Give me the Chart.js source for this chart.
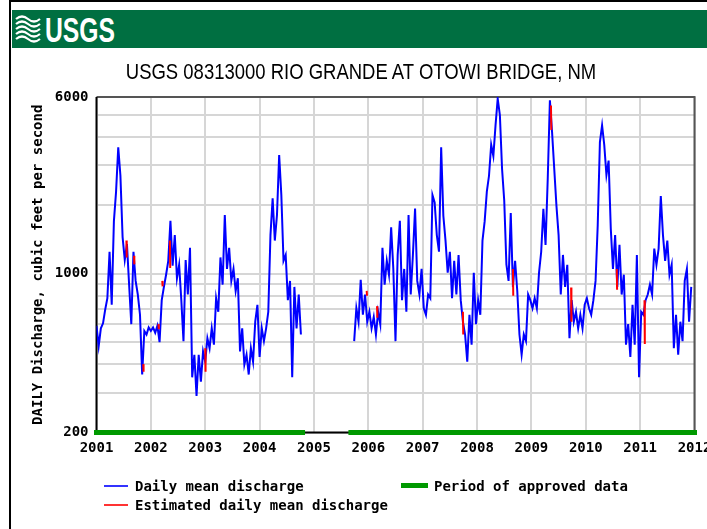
<!DOCTYPE html>
<html>
<head>
<meta charset="utf-8">
<script src="https://cdn.jsdelivr.net/npm/chart.js@4.4.1/dist/chart.umd.min.js"></script>
<style>
html,body{margin:0;padding:0;background:#fff;width:707px;height:529px;overflow:hidden;}
#frame{position:absolute;left:9px;top:0;width:698px;height:529px;border-left:2px solid #000;border-top:2px solid #000;box-sizing:border-box;}
#header{position:absolute;left:12px;top:10px;width:695px;height:38px;background:#006f41;}
#title{position:absolute;left:1px;top:59px;width:720px;text-align:center;font:22px 'Liberation Sans Narrow','Arial Narrow','Liberation Sans',sans-serif;color:#000;white-space:nowrap;transform:scaleX(0.84);transform-origin:360px 0;}
#c{position:absolute;left:0;top:0;}
.lg{position:absolute;font:bold 14px 'DejaVu Sans Mono',monospace;color:#000;white-space:nowrap;line-height:16px;}
.ln{position:absolute;}
</style>
</head>
<body>
<canvas id="c" width="707" height="529"></canvas>
<div id="frame"></div>
<div id="header">
<svg width="120" height="38" viewBox="0 0 120 38" style="position:absolute;left:0;top:0">
  <g fill="none" stroke="#fff" stroke-width="2.2">
    <path d="M4 9 q6 -5 12 0 t12 0"/>
    <path d="M4 14 q6 -5 12 0 t12 0"/>
    <path d="M4 19 q6 -5 12 0 t12 0"/>
    <path d="M4 24 q6 -5 12 0 t12 0"/>
    <path d="M4 29 q6 -5 12 0 t12 0"/>
  </g>
  <text x="33" y="32" fill="#fff" font-family="Liberation Sans Narrow, Arial Narrow, sans-serif" font-weight="bold" font-size="35" textLength="70" lengthAdjust="spacingAndGlyphs">USGS</text>
</svg>
</div>
<div id="title">USGS 08313000 RIO GRANDE AT OTOWI BRIDGE, NM</div>

<div class="ln" style="left:104px;top:485px;width:24px;height:2px;background:#3333ff"></div>
<div class="lg" style="left:135px;top:478px">Daily mean discharge</div>
<div class="ln" style="left:104px;top:504px;width:24px;height:2px;background:#ff3333"></div>
<div class="lg" style="left:135px;top:497px">Estimated daily mean discharge</div>
<div class="ln" style="left:401px;top:483px;width:27px;height:5px;background:#009900"></div>
<div class="lg" style="left:434px;top:478px">Period of approved data</div>

<script>
// ---- data (cubic feet per second), sampled every STEP years ----
const STEP = 0.04;
const period1Start = 2001.0;
const period1Flow = [
 590,480,575,605,695,780,1250,730,1700,2300,
 3600,2700,1450,1150,1350,895,600,1250,930,810,
 660,360,560,540,580,560,580,550,590,500,
 765,875,990,1140,1710,1085,1480,955,1095,765,
 505,1150,810,1300,350,440,290,440,335,455,
 410,520,470,575,487,780,680,1180,895,1815,
 1050,1300,930,1050,840,955,455,575,398,440,
 360,470,410,615,730,430,575,505,575,680,
 1480,2150,1400,1815,3330,2220,1140,1210,765,930,
 350,875,575,810,540
];
const period2Start = 2005.74;
const period2Flow = [
 505,705,615,940,660,810,615,680,575,645,
 540,680,600,1300,895,1140,990,1600,1050,505,
 1210,1710,765,1050,680,1815,810,1210,1935,930,
 810,1050,705,660,810,780,2220,2060,1480,1250,
 3600,1800,1400,1010,1250,780,1140,810,1210,765,
 615,540,410,660,487,1010,600,765,660,1400,
 1700,2300,2700,3700,3300,4500,5900,5000,2900,2100,
 1100,930,1850,875,1140,840,540,440,540,505,
 810,765,705,780,705,1010,1250,1930,1340,2600,
 5800,4200,2900,2000,1480,810,1210,875,1095,520,
 765,615,680,575,660,575,730,780,705,660,
 765,930,1640,3800,4500,3690,2720,3150,1580,1050,
 1480,875,1340,810,990,487,600,430,730,487,
 1210,350,680,660,765,810,895,810,1290,1095,
 1290,2200,1480,1140,1400,990,1095,470,660,440,
 615,505,930,1050,615,875
];
// estimated (red) segments
const estDate = [2001.55,2001.69,2001.86,2002.14,2002.21,2002.35,2003.00,2005.97,2006.16,2007.74,2008.66,2009.36,2009.73,2010.57,2011.08];
const estHigh = [1400,1200,400,600,930,1400,470,840,720,680,1050,5500,870,1050,765];
const estLow  = [1180,1100,370,570,880,1060,370,800,640,540,800,4300,615,850,490];
// approved-data periods
const approvedStart = [2001.0, 2005.68];
const approvedEnd   = [2004.79, 2012.0];
// axis
const yGridValues = [200,300,400,500,600,700,800,900,1000,2000,3000,4000,5000,6000];
const yLabelValues = [200,1000,6000];

// ---- build datasets ----
const blueData = [];
period1Flow.forEach((v,i)=>blueData.push({x: period1Start + i*STEP, y: v}));
blueData.push({x: 2005.2, y: null});
period2Flow.forEach((v,i)=>blueData.push({x: period2Start + i*STEP, y: v}));

const redData = [];
estDate.forEach((d,k)=>{
  redData.push({x:d, y:estHigh[k]});
  redData.push({x:d+0.006, y:estLow[k]});
  redData.push({x:d+0.01, y:null});
});

const greenData = [];
approvedStart.forEach((s,k)=>{
  greenData.push({x:s, y:200});
  greenData.push({x:approvedEnd[k], y:200});
  greenData.push({x:approvedEnd[k]+0.01, y:null});
});

const framePlugin = {
  id:'frame',
  beforeDatasetsDraw(chart){
    const {ctx, chartArea:a} = chart;
    ctx.save();
    ctx.lineWidth = 2;
    ctx.strokeStyle = '#555';
    ctx.beginPath();
    ctx.moveTo(a.left, a.top); ctx.lineTo(a.right, a.top); ctx.lineTo(a.right, a.bottom);
    ctx.stroke();
    ctx.strokeStyle = '#000';
    ctx.beginPath();
    ctx.moveTo(a.left, a.top); ctx.lineTo(a.left, a.bottom); ctx.lineTo(a.right, a.bottom);
    ctx.stroke();
    ctx.restore();
  }
};

const monoBold = {family:"'DejaVu Sans Mono', monospace", weight:'bold', size:14};

new Chart(document.getElementById('c'), {
  type:'line',
  data:{datasets:[
    {label:'Daily mean discharge', data:blueData, borderColor:'#0000ff', borderWidth:2, pointRadius:0, tension:0, spanGaps:false, order:2},
    {label:'Estimated daily mean discharge', data:redData, borderColor:'#ff0000', borderWidth:2, pointRadius:0, tension:0, spanGaps:false, order:1},
    {label:'Period of approved data', data:greenData, borderColor:'#009900', borderWidth:5, pointRadius:0, spanGaps:false, clip:false, borderCapStyle:'square', order:0}
  ]},
  options:{
    responsive:false, animation:false, events:[],
    layout:{padding:{left:0, top:97, right:12.5, bottom:0}},
    plugins:{legend:{display:false}, tooltip:{enabled:false}, title:{display:false}},
    scales:{
      x:{
        type:'linear', min:2001, max:2012,
        ticks:{stepSize:1, autoSkip:false, maxRotation:0, color:'#000', font:monoBold, padding:7,
          callback:v=>String(v)},
        grid:{color:'#d6d6d6', lineWidth:2, drawTicks:false},
        border:{display:false},
        afterFit(s){ s.height = 96.5; s.paddingLeft = 0; s.paddingRight = 0; }
      },
      y:{
        type:'logarithmic', min:200, max:6000,
        afterBuildTicks(s){ s.ticks = yGridValues.map(v=>({value:v})); },
        ticks:{color:'#000', font:monoBold, padding:8, autoSkip:false,
          callback:v=> yLabelValues.includes(v) ? String(v) : ''},
        grid:{color:'#d6d6d6', lineWidth:2, drawTicks:false},
        border:{display:false},
        title:{display:true, text:'DAILY Discharge, cubic feet per second', color:'#000',
          font:{family:"'DejaVu Sans Mono', monospace", weight:'bold', size:14}, padding:{top:29.6,bottom:0}},
        afterFit(s){ s.width = 96.5; }
      }
    }
  },
  plugins:[framePlugin]
});
</script>
</body>
</html>
